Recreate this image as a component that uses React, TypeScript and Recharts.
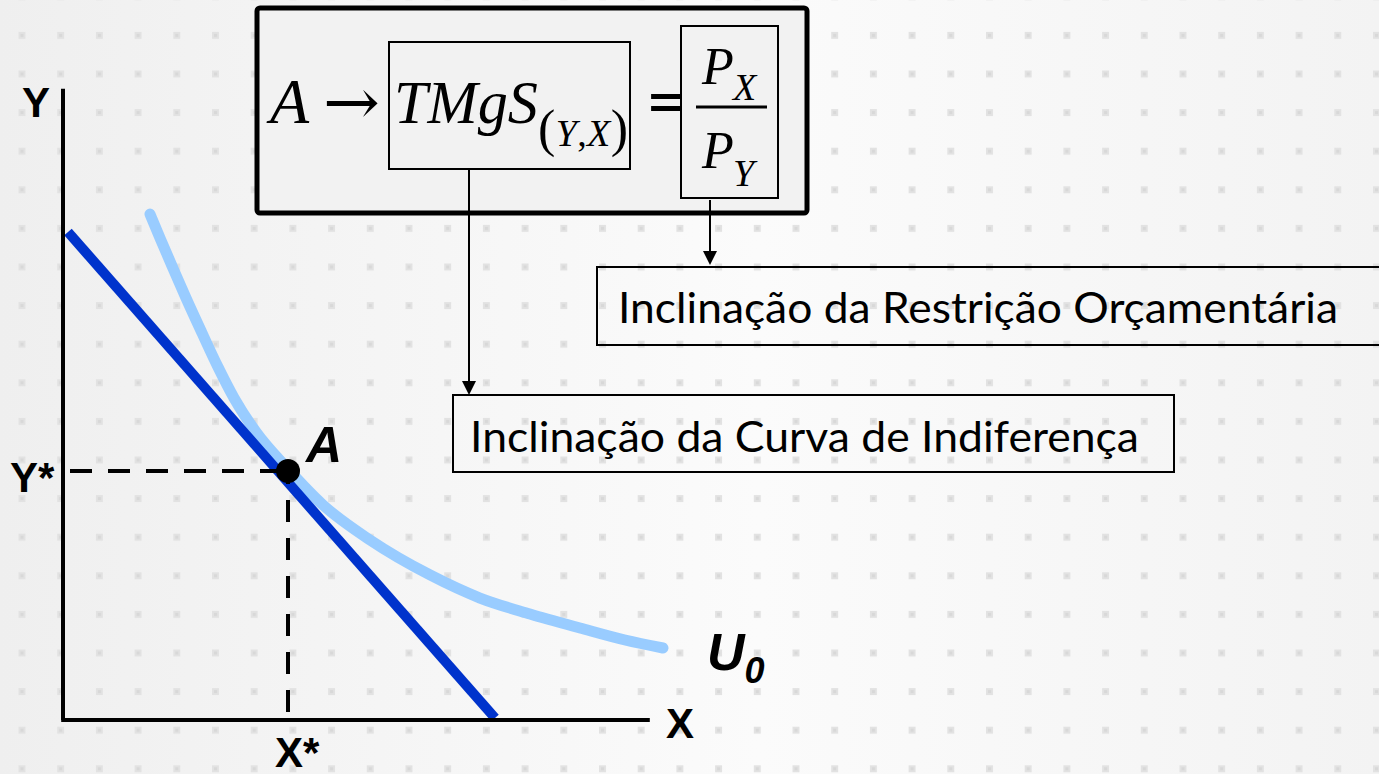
import React from "react";
import { ComposedChart, Line, XAxis, YAxis, ReferenceLine, ReferenceDot } from "recharts";

const W = 1379;
const H = 774;

// Indifference curve U0 (quantity of X, quantity of Y)
const indifferenceX = [1.45, 1.617, 1.817, 2.05, 2.317, 2.583, 2.85, 3.217, 3.75, 4.333, 5.117, 6.117, 6.95, 7.783, 8.617, 9.367, 10.0];
const indifferenceY = [8.433, 8.033, 7.567, 7.033, 6.45, 5.883, 5.367, 4.8, 4.183, 3.583, 3.0, 2.417, 2.033, 1.767, 1.533, 1.333, 1.2];

// Budget constraint
const budgetX = [0.083, 7.2];
const budgetY = [8.133, 0.033];

// Optimum A
const optimumX = 3.75;
const optimumY = 4.15;

// Axis extents
const axisMaxX = 9.78;
const axisMaxY = 10.52;

// Axis labels: text, x, y
const axisLabelTexts = ["Y", "X", "Y*", "X*"];
const axisLabelX = [-0.683, 10.05, -0.883, 3.533];
const axisLabelY = [10.05, -0.3, 3.8, -0.783];

const pointLabel = { text: "A", x: 4.05, y: 4.3 };
const curveLabel = { text: "U", sub: "0", x: 10.733, y: 0.833 };

const curveData = indifferenceX.map((x, i) => ({ x, y: indifferenceY[i] }));
const budgetData = budgetX.map((x, i) => ({ x, y: budgetY[i] }));

const sans = "'Liberation Sans', Arial, sans-serif";
const serif = "'Liberation Serif', 'Times New Roman', serif";

export default function App() {
  return (
    <div style={{ position: "absolute", left: 0, top: 0, width: W, height: H, overflow: "hidden" }}>
      <svg width={W} height={H} style={{ position: "absolute", left: 0, top: 0 }}>
        <defs>
          <linearGradient id="bg" x1="0" x2="1" y1="0" y2="0">
            <stop offset="0" stopColor="#efefef" />
            <stop offset="0.55" stopColor="#fbfbfb" />
            <stop offset="1" stopColor="#f3f3f3" />
          </linearGradient>
          <pattern id="dots" x={18.5} y={70.5} width={38.7} height={38.6} patternUnits="userSpaceOnUse">
            <rect x={0} y={0} width={7} height={7} fill="#e2e2e2" />
            <rect x={2} y={2} width={3} height={3} fill="#d8d8d8" />
          </pattern>
        </defs>
        <rect width={W} height={H} fill="url(#bg)" />
        <rect width={W} height={H} fill="url(#dots)" />
      </svg>

      <div style={{ position: "absolute", left: 0, top: 0 }}>
        <ComposedChart width={W} height={H} margin={{ top: 0, right: 0, bottom: 0, left: 0 }}>
          <XAxis type="number" dataKey="x" domain={[-1.05, 21.9333]} hide allowDataOverflow />
          <YAxis type="number" dataKey="y" domain={[-0.9, 12]} hide allowDataOverflow />
          <Line
            data={curveData}
            dataKey="y"
            type="monotone"
            stroke="#99ccff"
            strokeWidth={11}
            strokeLinecap="round"
            dot={false}
            activeDot={false}
            isAnimationActive={false}
          />
          <Line
            data={budgetData}
            dataKey="y"
            type="linear"
            stroke="#0033cc"
            strokeWidth={10}
            dot={false}
            activeDot={false}
            isAnimationActive={false}
          />
          <ReferenceLine
            segment={[{ x: 0, y: 0 }, { x: 0, y: axisMaxY }]}
            stroke="#000"
            strokeWidth={4}
            ifOverflow="visible"
          />
          <ReferenceLine
            segment={[{ x: -0.03, y: 0 }, { x: axisMaxX, y: 0 }]}
            stroke="#000"
            strokeWidth={4}
            ifOverflow="visible"
          />
          <ReferenceLine
            segment={[{ x: 0, y: optimumY }, { x: optimumX, y: optimumY }]}
            stroke="#000"
            strokeWidth={4}
            strokeDasharray="22 16"
            strokeDashoffset={31}
            ifOverflow="visible"
          />
          <ReferenceLine
            segment={[{ x: optimumX, y: optimumY }, { x: optimumX, y: 0 }]}
            stroke="#000"
            strokeWidth={4}
            strokeDasharray="22 16"
            strokeDashoffset={9}
            ifOverflow="visible"
          />
          <ReferenceDot x={optimumX} y={optimumY} r={12} fill="#000" stroke="none" ifOverflow="visible" />
          {axisLabelTexts.map((t, i) => (
            <ReferenceDot
              key={t}
              x={axisLabelX[i]}
              y={axisLabelY[i]}
              r={1}
              ifOverflow="visible"
              shape={(p: any) => (
                <text x={p.cx} y={p.cy} fontFamily={sans} fontWeight="bold" fontSize={42} fill="#000">
                  {t}
                </text>
              )}
            />
          ))}
          <ReferenceDot
            x={pointLabel.x}
            y={pointLabel.y}
            r={1}
            ifOverflow="visible"
            shape={(p: any) => (
              <text x={p.cx} y={p.cy} fontFamily={sans} fontWeight="bold" fontStyle="italic" fontSize={50} fill="#000">
                {pointLabel.text}
              </text>
            )}
          />
          <ReferenceDot
            x={curveLabel.x}
            y={curveLabel.y}
            r={1}
            ifOverflow="visible"
            shape={(p: any) => (
              <text x={p.cx} y={p.cy} fontFamily={sans} fontWeight="bold" fontStyle="italic" fill="#000">
                <tspan fontSize={52}>{curveLabel.text}</tspan>
                <tspan fontSize={36} dy={13}>{curveLabel.sub}</tspan>
              </text>
            )}
          />
        </ComposedChart>
      </div>

      <svg width={W} height={H} style={{ position: "absolute", left: 0, top: 0, pointerEvents: "none" }}>
        <rect x={257} y={8} width={550} height={205} rx={3} fill="#f2f2f2" stroke="#000" strokeWidth={5} />
        <rect x={389} y={42} width={241} height={127} fill="none" stroke="#000" strokeWidth={2} />
        <rect x={681} y={26} width={97} height={172} fill="none" stroke="#000" strokeWidth={2} />
        <g fontFamily={serif} fill="#000">
          <text x={270} y={123} fontSize={64} fontStyle="italic">A</text>
          <text x={323} y={124} fontFamily="'DejaVu Serif', 'DejaVu Sans', serif" fontSize={64} textLength={57} lengthAdjust="spacingAndGlyphs">→</text>
          <text x={394} y={123} fontSize={62} fontStyle="italic" textLength={144} lengthAdjust="spacingAndGlyphs">
            TMgS
          </text>
          <text x={538} y={146} textLength={90} lengthAdjust="spacing">
            <tspan fontSize={52}>(</tspan>
            <tspan fontSize={38} fontStyle="italic">Y</tspan>
            <tspan fontSize={38}>,</tspan>
            <tspan fontSize={38} fontStyle="italic">X</tspan>
            <tspan fontSize={52}>)</tspan>
          </text>
          <text x={649} y={123} fontSize={62} stroke="#000" strokeWidth={2}>=</text>
          <text x={702} y={84} fontSize={52} fontStyle="italic">P</text>
          <text x={733} y={100} fontSize={38} fontStyle="italic">X</text>
          <line x1={696} x2={767} y1={107} y2={107} stroke="#000" strokeWidth={3} />
          <text x={702} y={168} fontSize={52} fontStyle="italic">P</text>
          <text x={733} y={186} fontSize={38} fontStyle="italic">Y</text>
        </g>
        <line x1={469} x2={469} y1={169} y2={382} stroke="#000" strokeWidth={2} />
        <polygon points="462,381 476,381 469,395" fill="#000" />
        <line x1={710} x2={710} y1={200} y2={252} stroke="#000" strokeWidth={2} />
        <polygon points="703,251 717,251 710,265" fill="#000" />
        <rect x={597} y={267} width={790} height={78} fill="none" stroke="#000" strokeWidth={2} />
        <text x={618} y={323} fontFamily="Lato, 'Open Sans', sans-serif" fontSize={43} fill="#000" textLength={720} lengthAdjust="spacingAndGlyphs">
          Inclinação da Restrição Orçamentária
        </text>
        <rect x={453} y={395} width={721} height={77} fill="none" stroke="#000" strokeWidth={2} />
        <text x={470} y={452} fontFamily="Lato, 'Open Sans', sans-serif" fontSize={43} fill="#000" textLength={669} lengthAdjust="spacingAndGlyphs">
          Inclinação da Curva de Indiferença
        </text>
      </svg>
    </div>
  );
}
